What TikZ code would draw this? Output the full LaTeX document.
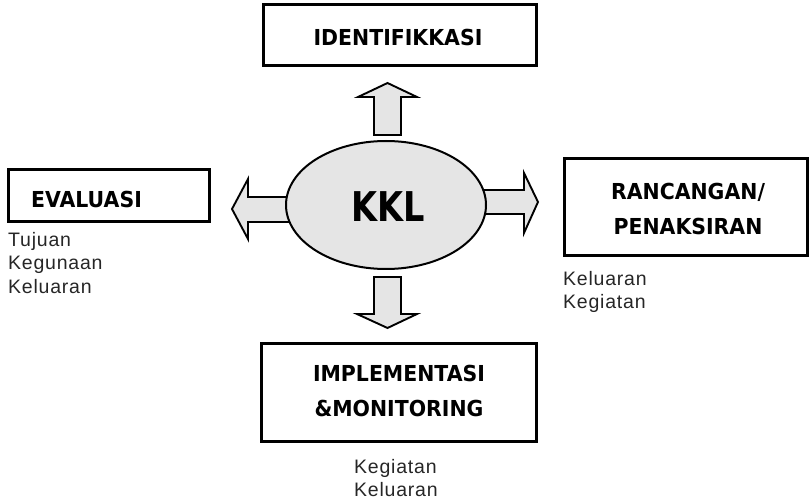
\documentclass[tikz,border=0pt]{standalone}
\usepackage{fontspec}
\usepackage{graphicx}
\usetikzlibrary{shapes.geometric}
\newfontfamily\titlefont{DejaVu Sans}[FakeStretch=0.93]
\newfontfamily\notefont{Liberation Sans}[LetterSpace=4]
\definecolor{blockgray}{gray}{0.90}
\begin{document}
\begin{tikzpicture}[x=1pt,y=-1pt,
  stagebox/.style={draw=black,line width=2.8pt,minimum width=#1,inner sep=0pt},
  stagetitle/.style={font=\titlefont\bfseries\fontsize{22}{35}\selectfont,align=center,inner sep=0pt},
  notes/.style={font=\notefont\fontsize{19.5}{23.5}\selectfont,align=left,anchor=north west,inner sep=0pt,text=black!85},
  blockarrow/.style={draw=black,line width=1.9pt,fill=blockgray,line join=miter}]
\useasboundingbox (0,0) rectangle (811,502);

% stage boxes
\node[stagebox=273pt,minimum height=61pt] (ident) at (400,35) {};
\node[stagebox=201pt,minimum height=52pt] (eval) at (109,195.5) {};
\node[stagebox=243pt,minimum height=97pt] (ranc) at (686,207) {};
\node[stagebox=275pt,minimum height=98pt] (impl) at (399,392.5) {};

% stage titles
\node[stagetitle] (identT) at (398,37) {IDENTIFIKKASI};
\node[stagetitle] (evalT) at (86.5,199.5) {EVALUASI};
\node[stagetitle] (rancT) at (688,209) {RANCANGAN/\\PENAKSIRAN};
\node[stagetitle] (implT) at (399,391) {IMPLEMENTASI\\\&MONITORING};

% block arrows leaving the centre
\draw[blockarrow] (374,135) -- (374,97) -- (358,97) -- (387.5,83) -- (417,97) -- (401,97) -- (401,135) -- cycle;
\draw[blockarrow] (374,277) -- (374,314) -- (357,314) -- (387.5,328) -- (417,314) -- (401,314) -- (401,277) -- cycle;
\draw[blockarrow] (300,197) -- (248,197) -- (248,179) -- (232,209) -- (248,239) -- (248,222) -- (300,222) -- cycle;
\draw[blockarrow] (470,190) -- (524,190) -- (524,173) -- (538,202) -- (524,233) -- (524,214) -- (470,214) -- cycle;

% central ellipse
\node[ellipse,draw=black,line width=2pt,fill=blockgray,minimum width=200pt,minimum height=128pt,inner sep=0pt] (kkl) at (386,205) {};
\node[font=\titlefont\bfseries\fontsize{41}{41}\selectfont,inner sep=0pt] (kklT) at (388,207) {\scalebox{0.88}[1]{KKL}};

% notes under the boxes
\node[notes] (evalN) at (8,232) {Tujuan\\Kegunaan\\Keluaran};
\node[notes] (rancN) at (563,271) {Keluaran\\Kegiatan};
\node[notes] (implN) at (354,459) {Kegiatan\\Keluaran};
\end{tikzpicture}
\end{document}
